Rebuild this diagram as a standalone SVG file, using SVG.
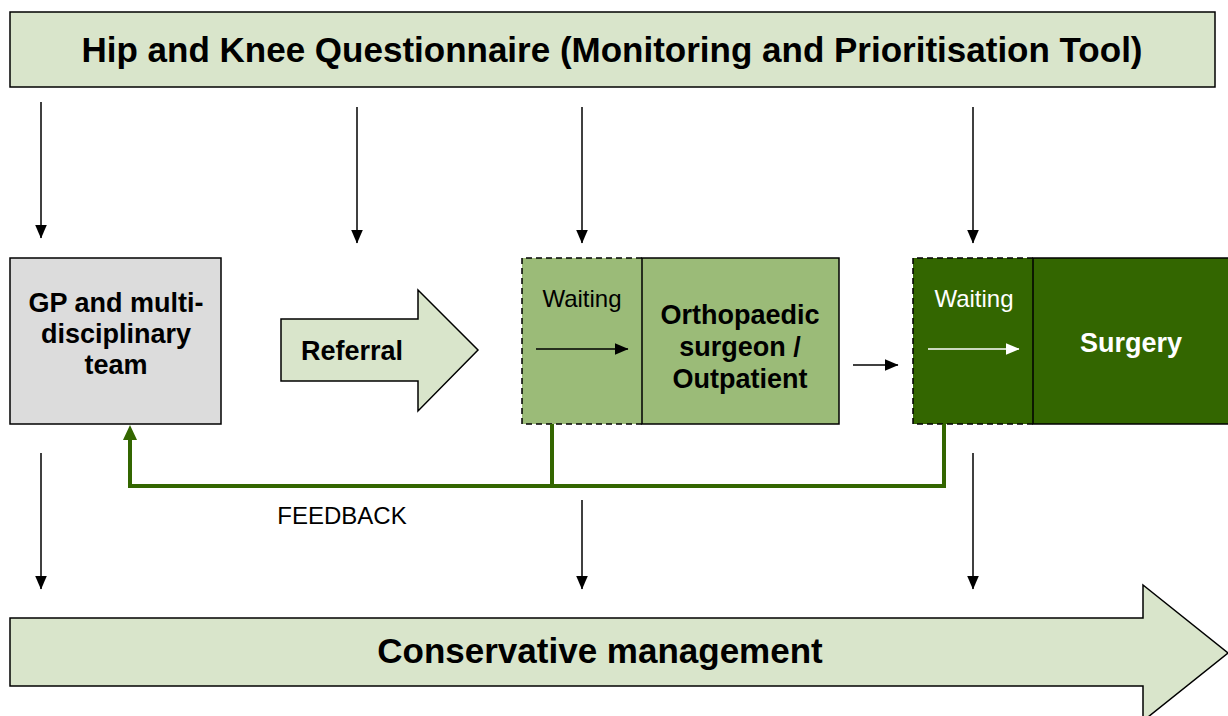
<svg xmlns="http://www.w3.org/2000/svg" width="1228" height="716" viewBox="0 0 1228 716">
  <style>
    .box { stroke: #000; stroke-width: 1.5; }
    .light { fill: #d9e5cb; }
    .grey { fill: #dcdcdc; }
    .mid { fill: #9bbb78; }
    .dark { fill: #336600; }
    .dash { fill: none; stroke: #000; stroke-width: 1.5; stroke-dasharray: 6 4; }
    .arrow { stroke: #000; stroke-width: 1.5; fill: none; marker-end: url(#head); }
    .warrow { stroke: #fff; stroke-width: 1.5; fill: none; marker-end: url(#whead); }
    .fb { stroke: #336600; stroke-width: 4; fill: none; stroke-linejoin: miter; }
    text { font-family: "Liberation Sans", Arial, sans-serif; text-anchor: middle; }
    .big { font-size: 35px; font-weight: bold; }
    .lbl { font-size: 27px; font-weight: bold; }
    .reg { font-size: 24px; }
  </style>
  <defs>
    <marker id="head" markerWidth="14" markerHeight="12" refX="13.5" refY="6" orient="auto" markerUnits="userSpaceOnUse" viewBox="0 0 14 12">
      <path d="M0,0 L14,6 L0,12 Z" fill="#000"/>
    </marker>
    <marker id="whead" markerWidth="14" markerHeight="12" refX="13.5" refY="6" orient="auto" markerUnits="userSpaceOnUse" viewBox="0 0 14 12">
      <path d="M0,0 L14,6 L0,12 Z" fill="#fff"/>
    </marker>
  </defs>

  <rect width="1228" height="716" fill="#fff"/>

  <!-- questionnaire banner -->
  <g id="questionnaire">
    <rect class="box light" x="10" y="12" width="1205" height="75"/>
    <text class="big" x="612" y="62">Hip and Knee Questionnaire (Monitoring and Prioritisation Tool)</text>
  </g>

  <!-- GP and multidisciplinary team -->
  <g id="gp">
    <rect class="box grey" x="10" y="258" width="211" height="166"/>
    <text class="lbl" x="116" y="312">GP and multi-</text>
    <text class="lbl" x="116" y="343">disciplinary</text>
    <text class="lbl" x="116" y="374">team</text>
  </g>

  <!-- referral block arrow -->
  <g id="referral">
    <path class="box light" d="M281,319 H418 V290 L478,350 L418,411 V381 H281 Z"/>
    <text class="lbl" x="352" y="360">Referral</text>
  </g>

  <!-- orthopaedic surgeon with waiting stage -->
  <g id="orthopaedic">
    <rect class="mid" x="522" y="258" width="120" height="166"/>
    <path class="dash" d="M642,258 H522 V424 H642"/>
    <rect class="box mid" x="642" y="258" width="197" height="166"/>
    <text class="reg" x="582" y="307">Waiting</text>
    <line class="arrow" x1="536" y1="349" x2="628" y2="349"/>
    <text class="lbl" x="740" y="324">Orthopaedic</text>
    <text class="lbl" x="740" y="356">surgeon /</text>
    <text class="lbl" x="740" y="388">Outpatient</text>
  </g>

  <!-- surgery with waiting stage -->
  <g id="surgery">
    <rect class="dark" x="913" y="258" width="120" height="166"/>
    <path class="dash" d="M1033,258 H913 V424 H1033"/>
    <rect class="box dark" x="1033" y="258" width="210" height="166"/>
    <text class="reg" x="974" y="307" fill="#fff">Waiting</text>
    <line class="warrow" x1="928" y1="349" x2="1019" y2="349"/>
    <text class="lbl" x="1131" y="352" fill="#fff">Surgery</text>
  </g>

  <!-- conservative management block arrow -->
  <g id="conservative">
    <path class="box light" d="M10,618 H1143 V585 L1228,653 L1143,721 V686 H10 Z"/>
    <text class="big" x="600" y="663">Conservative management</text>
  </g>

  <!-- connectors -->
  <g id="connectors">
    <line class="arrow" x1="41" y1="102" x2="41" y2="238"/>
    <line class="arrow" x1="357" y1="107" x2="357" y2="243"/>
    <line class="arrow" x1="582" y1="107" x2="582" y2="243"/>
    <line class="arrow" x1="973" y1="107" x2="973" y2="243"/>
    <line class="arrow" x1="853" y1="365" x2="898" y2="365"/>
    <line class="arrow" x1="41" y1="453" x2="41" y2="589"/>
    <line class="arrow" x1="582" y1="500" x2="582" y2="589"/>
    <line class="arrow" x1="973" y1="453" x2="973" y2="589"/>
    <!-- feedback loop -->
    <path class="fb" d="M944,424 V486 H130 V438"/>
    <line class="fb" x1="552" y1="424" x2="552" y2="486"/>
    <path d="M130,425 L137,440 L123,440 Z" fill="#336600"/>
    <text class="reg" x="342" y="524">FEEDBACK</text>
  </g>
</svg>
